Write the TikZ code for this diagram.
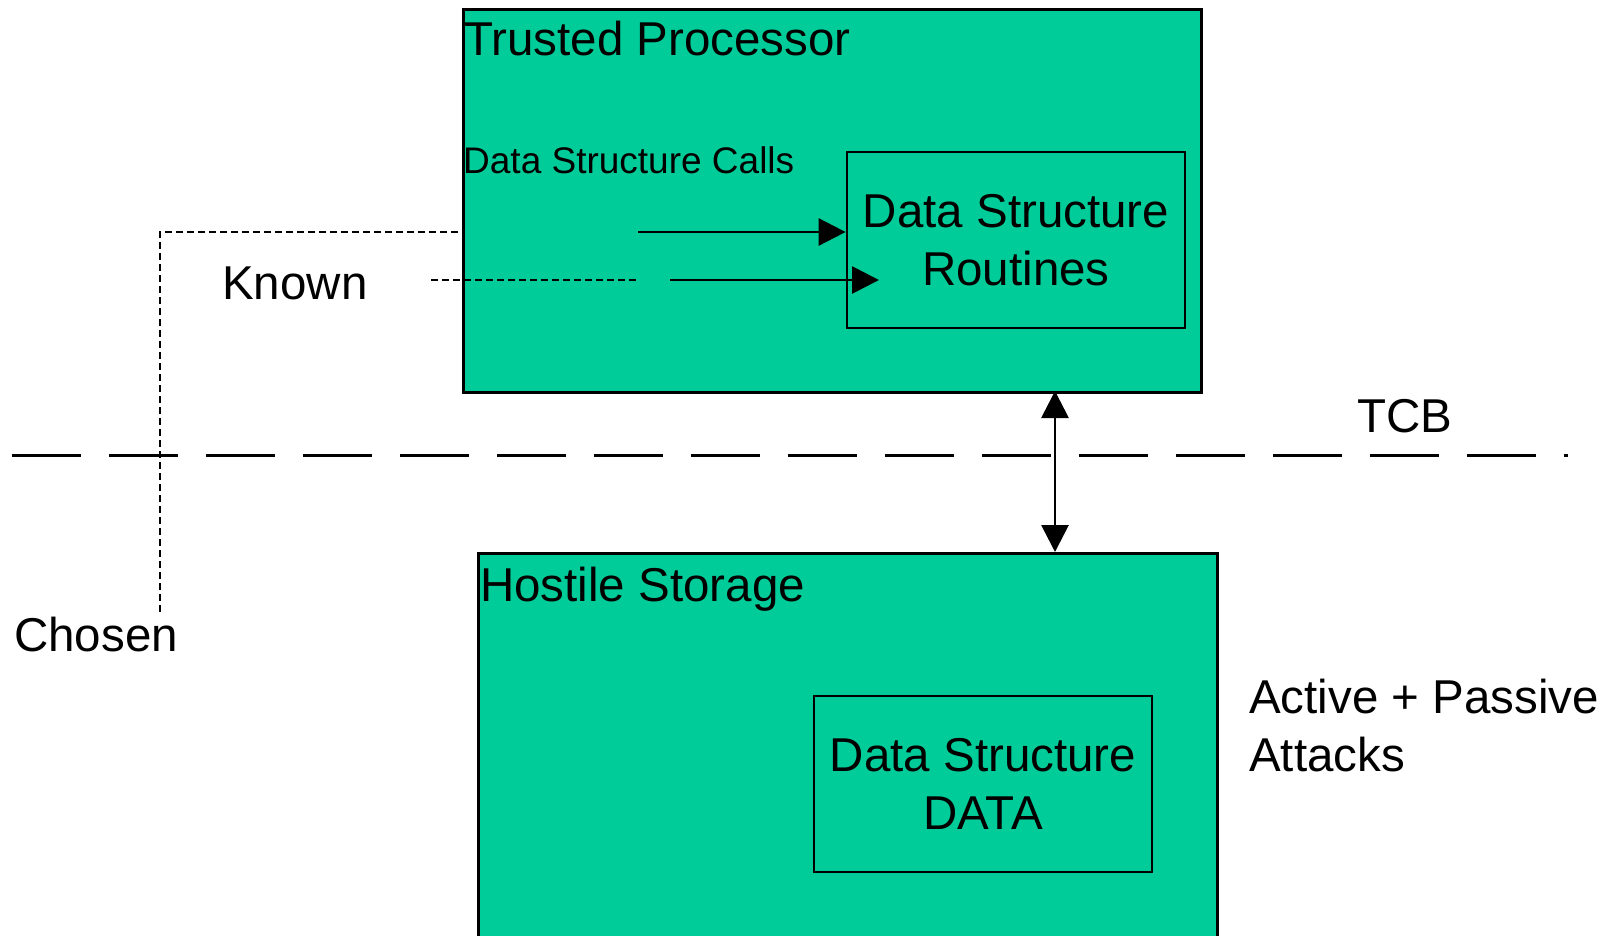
\documentclass[tikz,border=0pt]{standalone}
\usepackage{fontspec}
\setmainfont{Liberation Sans}
\usetikzlibrary{arrows.meta}
\definecolor{tealfill}{RGB}{0,204,153}
\tikzset{
  bigtext/.style={font=\fontsize{47.5pt}{58pt}\selectfont, inner sep=0pt},
  smalltext/.style={font=\fontsize{37pt}{44pt}\selectfont, inner sep=0pt},
  areabox/.style={draw=black, fill=tealfill, line width=2.8pt, rectangle, inner sep=0pt, anchor=north west},
  routinebox/.style={draw=black, fill=tealfill, line width=2.8pt, rectangle, inner sep=0pt,
    align=center, font=\fontsize{47.5pt}{58pt}\selectfont},
  flow/.style={line width=2.8pt, -{Triangle[length=27pt,width=27pt]}},
  biflow/.style={line width=2.8pt, {Triangle[length=27pt,width=27pt]}-{Triangle[length=27pt,width=27pt]}},
  probe/.style={line width=2.8pt, dash pattern=on 7pt off 4pt},
  boundary/.style={line width=3pt, dash pattern=on 69pt off 28pt}
}
\begin{document}
\begin{tikzpicture}[x=1pt, y=-1pt]
\useasboundingbox (0,0) rectangle (1606,935);
\begin{scope}
\clip (0,0) rectangle (1606,935);

% trusted side
\node[areabox, minimum width=738pt, minimum height=383pt] (tp) at (462,8) {};
\node[bigtext, anchor=base west] (tplabel) at (464,55) {Trusted Processor};
\node[smalltext, anchor=base west] (calls) at (463,173) {Data Structure Calls};
\node[routinebox, minimum width=338pt, minimum height=176pt] (rout) at (1016,240)
  {Data Structure\\Routines};

% untrusted side
\node[areabox, minimum width=739pt, minimum height=420pt] (hs) at (477,552) {};
\node[bigtext, anchor=base west] (hslabel) at (480,601) {Hostile Storage};
\node[routinebox, minimum width=338pt, minimum height=176pt] (data) at (983,784)
  {Data Structure\\DATA};

% free labels
\node[bigtext, anchor=base west] (known) at (222,299) {Known};
\node[bigtext, anchor=base west] (chosen) at (14,651) {Chosen};
\node[bigtext, anchor=base west] (tcb) at (1357,432) {TCB};
\node[bigtext, anchor=base west, align=left] (attacks) at (1249,771) {Active + Passive\\Attacks};

% call arrows into the routines
\coordinate (c1) at (638,232);
\coordinate (c2) at (670,280);
\coordinate (c2end) at (879,280);
\draw[flow] (c1) -- (rout.west |- c1);
\draw[flow] (c2) -- (c2end);

% chosen / known input paths
\coordinate (chTop) at (458,232);
\coordinate (chCorner) at (160,232);
\coordinate (chBottom) at (160,615);
\draw[probe] (chTop) -- (chCorner) -- (chBottom);
\coordinate (knStart) at (431,280);
\coordinate (knEnd) at (639,280);
\draw[probe] (knStart) -- (knEnd);

% trust boundary
\coordinate (tcbL) at (12,455);
\coordinate (tcbR) at (1568,455);
\draw[boundary] (tcbL) -- (tcbR);

% processor <-> storage
\coordinate (busTop) at (1055,391);
\coordinate (busBot) at (1055,552);
\draw[biflow] (busTop) -- (busBot);
\end{scope}
\end{tikzpicture}
\end{document}
